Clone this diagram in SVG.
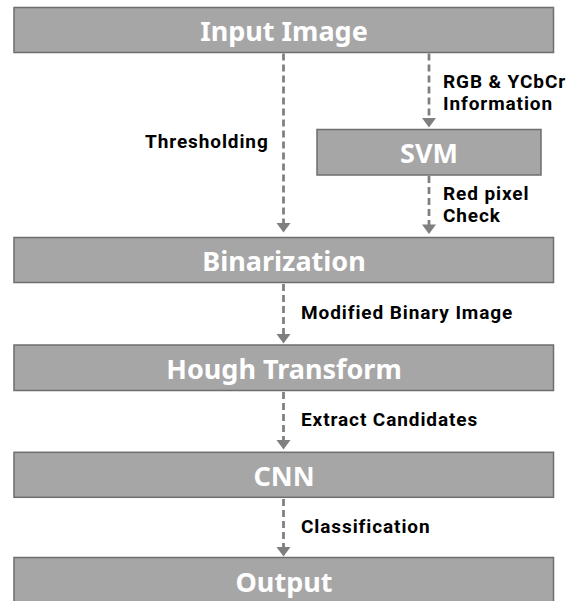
<svg xmlns="http://www.w3.org/2000/svg" width="581" height="601" viewBox="0 0 581 601">
<style>
.box{fill:#a6a6a6;stroke:#6e6e6e;stroke-width:1.5}
.title{font-family:"Noto Sans","Open Sans",sans-serif;font-weight:bold;font-size:27px;fill:#ffffff;text-anchor:middle}
.lbl{font-family:Roboto,"Noto Sans",sans-serif;font-weight:bold;font-size:19px;letter-spacing:0.9px;fill:#000000}
.conn{stroke:#7f7f7f;stroke-width:2.75;stroke-dasharray:7 4;fill:none}
.head{fill:#7f7f7f}
</style>
<rect width="581" height="601" fill="#ffffff"/>
<g id="input">
<rect class="box" x="14" y="7.5" width="539.5" height="45"/>
<text class="title" x="284" y="41">Input Image</text>
</g>
<g id="svm">
<rect class="box" x="317" y="129.5" width="224" height="45.5"/>
<text class="title" x="429" y="163">SVM</text>
</g>
<g id="binarization">
<rect class="box" x="14" y="237.5" width="539.5" height="45"/>
<text class="title" x="284" y="271">Binarization</text>
</g>
<g id="hough">
<rect class="box" x="14" y="345" width="539.5" height="45.5"/>
<text class="title" x="284" y="379">Hough Transform</text>
</g>
<g id="cnn">
<rect class="box" x="14" y="452.3" width="539.5" height="45"/>
<text class="title" x="284" y="485.5">CNN</text>
</g>
<g id="output">
<rect class="box" x="14" y="557.5" width="539.5" height="45"/>
<text class="title" x="284" y="591.5">Output</text>
</g>
<g id="connectors">
<line class="conn" x1="283.5" y1="53.5" x2="283.5" y2="223"/>
<polygon class="head" points="276.5,223 290.5,223 283.5,232.5"/>
<line class="conn" x1="429" y1="53.5" x2="429" y2="118"/>
<polygon class="head" points="422,118 436,118 429,127.5"/>
<line class="conn" x1="429" y1="176" x2="429" y2="225"/>
<polygon class="head" points="422,224.5 436,224.5 429,234"/>
<line class="conn" x1="283.5" y1="284" x2="283.5" y2="334"/>
<polygon class="head" points="276.5,334 290.5,334 283.5,343.5"/>
<line class="conn" x1="283.5" y1="392" x2="283.5" y2="440"/>
<polygon class="head" points="276.5,440 290.5,440 283.5,449.5"/>
<line class="conn" x1="283.5" y1="499" x2="283.5" y2="547"/>
<polygon class="head" points="276.5,547 290.5,547 283.5,556.5"/>
</g>
<g id="labels">
<text class="lbl" x="145" y="148">Thresholding</text>
<text class="lbl" x="443" y="87.5">RGB &amp; YCbCr</text>
<text class="lbl" x="443" y="110">Information</text>
<text class="lbl" x="443" y="199.5">Red pixel</text>
<text class="lbl" x="443" y="222">Check</text>
<text class="lbl" x="301" y="319">Modified Binary Image</text>
<text class="lbl" x="301" y="426">Extract Candidates</text>
<text class="lbl" x="301" y="532.5">Classification</text>
</g>
</svg>
